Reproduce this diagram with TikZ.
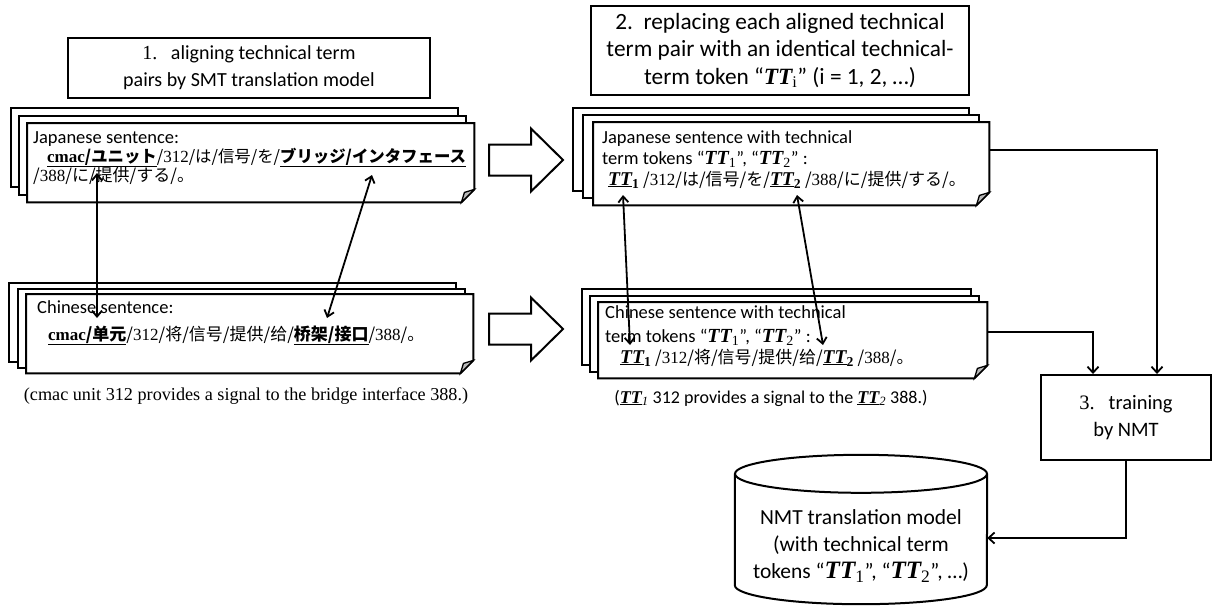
\documentclass[tikz,border=0pt]{standalone}
\usepackage{fontspec}
\setmainfont{Carlito}
\newfontfamily\tmr{Liberation Serif}
\newfontfamily\jpf{Noto Sans CJK JP}
\newfontfamily\scf{Noto Sans CJK SC}
\usetikzlibrary{arrows.meta,calc}
\newcommand\TTx[1]{{\tmr\bfseries\itshape TT}\textsubscript{\tmr #1}}
\newcommand\TTd[1]{{\fontsize{20}{20}\selectfont\TTx{#1}}}
\newcommand\uTT[1]{{\fontsize{19.5}{20}\selectfont\underline{\tmr\bfseries\itshape TT}\textsubscript{\tmr\bfseries #1}}}
\newcommand\cTT[1]{\underline{\tmr\bfseries\itshape TT}\textsubscript{\tmr\itshape #1}}
\newcommand\cjkA{\fontsize{16.4}{20}\selectfont}
\tikzset{
  sheetline/.style={line width=2pt, draw=black, fill=white, line join=miter},
  sheet/.style={draw=none, inner sep=0pt, rectangle},
  stepbox/.style={draw, line width=2pt, fill=white, align=center, inner sep=0pt},
  dtext/.style={anchor=base west, inner sep=0pt, font=\fontsize{18.5}{20}\selectfont},
  cjktext/.style={anchor=base west, inner sep=0pt, font=\fontsize{17}{20}\selectfont},
  captext/.style={anchor=base, inner sep=0pt, font=\fontsize{18.2}{20}\selectfont},
  link/.style={line width=1.8pt, {Straight Barb[length=6pt,width=10pt]}-{Straight Barb[length=6pt,width=10pt]}},
  flow/.style={line width=1.8pt, -{Straight Barb[length=6pt,width=11pt]}},
}
\newcommand\docstack[7]{%
  \draw[sheetline] (#2-2*#6, #3-2*#7) rectangle ++(#4,#5);
  \draw[sheetline] (#2-#6, #3-#7) rectangle ++(#4,#5);
  \node[sheet, minimum width=#4pt, minimum height=#5pt, anchor=north west] (#1) at (#2,#3) {};
  \draw[sheetline] (#1.north west) -- (#1.north east) -- ([yshift=13pt]#1.south east)
     -- ([xshift=-13pt]#1.south east) -- (#1.south west) -- cycle;
  \draw[sheetline, fill=gray!55, line width=1.3pt] ([yshift=13pt]#1.south east) -- ([xshift=-13pt]#1.south east)
     -- ([xshift=-10pt,yshift=10pt]#1.south east) -- cycle;
}
\newcommand\fatarrow[2]{%
  \draw[sheetline] (#1,#2-15.5) -- (#1+42,#2-15.5) -- (#1+42,#2-31.5) -- (#1+74,#2)
    -- (#1+42,#2+31.5) -- (#1+42,#2+15.5) -- (#1,#2+15.5) -- cycle;
}
\begin{document}
\begin{tikzpicture}[x=1pt,y=-1pt]
\useasboundingbox (0,0) rectangle (1214,606);

% step boxes
\node[stepbox, minimum width=362pt, minimum height=60pt, font=\fontsize{20}{27}\selectfont] (s1) at (249,68)
  {{\tmr 1.}\ \ \ aligning technical term\\pairs by SMT translation model};
\node[stepbox, minimum width=378pt, minimum height=89pt, font=\fontsize{23.3}{27.5}\selectfont] (s2) at (780,50.5)
  {2.\ \ replacing each aligned technical\\term pair with an identical technical-\\term token “\TTx{i}” (i = 1, 2, …)};
\node[stepbox, minimum width=170pt, minimum height=85pt, font=\fontsize{20.5}{27}\selectfont] (trn) at (1126,417.5)
  {{\tmr 3.}\ \ \ training\\by NMT};

% document stacks
\docstack{jl}{27}{123}{447}{79}{8}{7.5}
\docstack{jr}{593}{122}{396}{83}{10}{7}
\docstack{cl}{26}{294}{447}{79}{8.5}{5.5}
\docstack{cr}{598}{302}{389}{76}{8}{6.5}

% fat arrows
\fatarrow{489}{160}
\fatarrow{489}{329}

% left Japanese
\node[dtext] (jl1) at (33,143) {Japanese sentence:};
\node[cjktext] (jl2) at (47,162) {\underline{{\tmr\bfseries cmac}{\jpf\cjkA\bfseries /ユニット}}{\jpf\cjkA /}{\tmr 312}{\jpf\cjkA /は/信号/を/}\underline{\jpf\cjkA\bfseries ブリッジ/インタフェース}};
\node[cjktext] (jl3) at (33,181) {{\jpf /}{\tmr 388}{\jpf /に/提供/する/。}};

% left Chinese
\node[dtext] (cl1) at (37,313) {Chinese sentence:};
\node[cjktext] (cl2) at (48,340) {\underline{{\tmr\bfseries cmac}{\scf\bfseries /单元}}{\scf /}{\tmr 312}{\scf /将/信号/提供/给/}\underline{\scf\bfseries 桥架/接口}{\scf /}{\tmr 388}{\scf /。}};
\node[captext] (cap1) at (246,400) {\tmr (cmac unit 312 provides a signal to the bridge interface 388.)};

% right Japanese
\node[dtext] (jr1) at (602,143) {Japanese sentence with technical};
\node[dtext] (jr2) at (602,164) {term tokens “\TTd{1}”, “\TTd{2}” :};
\node[cjktext] (jr3) at (608,185) {\uTT{1} {\jpf /}{\tmr 312}{\jpf /は/信号/を/}\uTT{2} {\jpf /}{\tmr 388}{\jpf /に/提供/する/。}};

% right Chinese
\node[dtext] (cr1) at (605,318) {Chinese sentence with technical};
\node[dtext] (cr2) at (605,342) {term tokens “\TTd{1}”, “\TTd{2}” :};
\node[cjktext] (cr3) at (620,363) {\uTT{1} {\scf /}{\tmr 312}{\scf /将/信号/提供/给/}\uTT{2} {\scf /}{\tmr 388}{\scf /。}};
\node[captext, font=\fontsize{18}{20}\selectfont] (cap2) at (771,403) {(\cTT{1} 312 provides a signal to the \cTT{2} 388.)};

% cylinder
\node[sheet, minimum width=252pt, minimum height=111pt] (cyl) at (861,529.5) {};
\fill[white] (cyl.north west) rectangle (cyl.south east);
\fill[white] (cyl.south) ellipse [x radius=126, y radius=19];
\draw[line width=2pt] (cyl.north) ellipse [x radius=126, y radius=19];
\draw[line width=2pt] (cyl.north west) -- (cyl.south west)
   arc[start angle=180, end angle=0, x radius=126, y radius=19] -- (cyl.north east);
\node[align=center, inner sep=0pt, font=\fontsize{21.5}{27}\selectfont] (cylt) at (861,546)
  {NMT translation model\\(with technical term\\tokens “{\fontsize{25}{27}\selectfont\TTx{1}}”, “{\fontsize{25}{27}\selectfont\TTx{2}}”, …)};

% alignment links
\coordinate (u1) at (97,173);  \coordinate (v1) at (97,318);
\coordinate (u2) at (372,175); \coordinate (v2) at (327,318);
\coordinate (u3) at (623,195); \coordinate (v3) at (630,345);
\coordinate (u4) at (797,195); \coordinate (v4) at (823,345);
\draw[link] (u1) -- (v1);
\draw[link] (u2) -- (v2);
\draw[link] (u3) -- (v3);
\draw[link] (u4) -- (v4);

% flow connectors
\draw[flow] ([yshift=13.5pt]jr.east) -| ([xshift=31pt]trn.north);
\draw[flow] ([yshift=8pt]cr.east) -| ([xshift=-33pt]trn.north);
\draw[flow] (trn.south) |- ([yshift=-8.5pt]cyl.east);
\end{tikzpicture}
\end{document}
